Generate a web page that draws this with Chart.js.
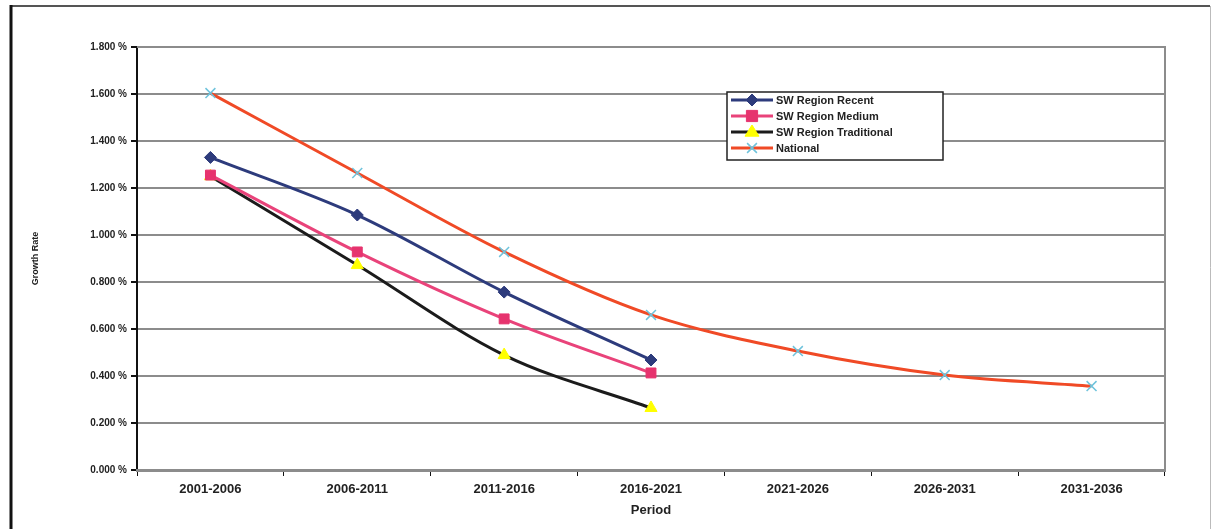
<!DOCTYPE html>
<html>
<head>
<meta charset="utf-8">
<script src="https://cdn.jsdelivr.net/npm/chart.js@4"></script>
<style>
  html, body { margin: 0; padding: 0; background: #fff; }
  #wrap { width: 1216px; height: 529px; }
</style>
</head>
<body>
<div id="wrap"><canvas id="growthChart" width="1216" height="529"></canvas></div>
<script>
// Growth rate by period
const periods = ['2001-2006', '2006-2011', '2011-2016', '2016-2021', '2021-2026', '2026-2031', '2031-2036'];
const swRecent = [1.33, 1.085, 0.757, 0.468, null, null, null];
const swMedium = [1.255, 0.928, 0.643, 0.413, null, null, null];
const swTraditional = [1.25, 0.872, 0.489, 0.264, null, null, null];
const national = [1.604, 1.264, 0.928, 0.66, 0.506, 0.404, 0.357];
const yTicks = [0, 0.2, 0.4, 0.6, 0.8, 1.0, 1.2, 1.4, 1.6, 1.8];

const labelFont = '"Liberation Sans Narrow", "Liberation Sans", Arial, sans-serif';

// frame around the whole picture + plot area border
const framePlugin = {
    id: 'frame',
    beforeDatasetsDraw(chart) {
        const a = chart.chartArea;
        const c = chart.ctx;
        c.save();
        c.strokeStyle = '#8c8c8c';
        c.lineWidth = 2;
        c.beginPath();
        c.moveTo(a.left, a.top);
        c.lineTo(a.right, a.top);
        c.lineTo(a.right, a.bottom);
        c.stroke();
        c.restore();
    },
    afterDraw(chart) {
        const c = chart.ctx;
        c.save();
        c.strokeStyle = '#555';
        c.lineWidth = 2;
        c.beginPath();
        c.moveTo(11, 6);
        c.lineTo(1210, 6);
        c.stroke();
        c.strokeStyle = '#111';
        c.lineWidth = 3;
        c.beginPath();
        c.moveTo(11, 5);
        c.lineTo(11, 529);
        c.stroke();
        c.strokeStyle = '#bbb';
        c.lineWidth = 1;
        c.beginPath();
        c.moveTo(1210.5, 6);
        c.lineTo(1210.5, 529);
        c.stroke();
        c.restore();
    }
};

function drawMarker(c, style, cx, cy, r) {
    c.beginPath();
    if (style === 'rectRot') {
        c.moveTo(cx, cy - r); c.lineTo(cx + r, cy); c.lineTo(cx, cy + r); c.lineTo(cx - r, cy); c.closePath();
        c.fill(); c.stroke();
    } else if (style === 'rect') {
        c.rect(cx - r * 0.8, cy - r * 0.8, 1.6 * r, 1.6 * r); c.fill(); c.stroke();
    } else if (style === 'triangle') {
        c.moveTo(cx, cy - r); c.lineTo(cx + r, cy + r * 0.6); c.lineTo(cx - r, cy + r * 0.6); c.closePath();
        c.fill(); c.stroke();
    } else if (style === 'crossRot') {
        const d = r * 0.7;
        c.moveTo(cx - d, cy - d); c.lineTo(cx + d, cy + d);
        c.moveTo(cx + d, cy - d); c.lineTo(cx - d, cy + d);
        c.stroke();
    }
}

// legend box drawn inside the plot, like the original
const boxLegend = {
    id: 'boxLegend',
    afterDatasetsDraw(chart) {
        const c = chart.ctx;
        const x = 727, y = 92, w = 216, h = 68;
        c.save();
        c.fillStyle = '#fff';
        c.fillRect(x, y, w, h);
        c.strokeStyle = '#222';
        c.lineWidth = 1.5;
        c.strokeRect(x, y, w, h);
        chart.data.datasets.forEach((ds, i) => {
            const ly = y + 8 + i * 16;
            c.strokeStyle = ds.borderColor;
            c.lineWidth = 3;
            c.beginPath();
            c.moveTo(x + 4, ly);
            c.lineTo(x + 46, ly);
            c.stroke();
            c.fillStyle = ds.pointBackgroundColor;
            c.strokeStyle = ds.pointBorderColor;
            c.lineWidth = ds.pointBorderWidth || 1;
            drawMarker(c, ds.pointStyle, x + 25, ly, ds.pointRadius);
            c.fillStyle = '#222';
            c.font = 'bold 11px "Liberation Sans", Arial, sans-serif';
            c.textBaseline = 'middle';
            c.fillText(ds.label, x + 49, ly + 1);
        });
        c.restore();
    }
};

const ctx = document.getElementById('growthChart').getContext('2d');
new Chart(ctx, {
    type: 'line',
    data: {
        labels: periods,
        datasets: [{
            label: 'SW Region Recent',
            data: swRecent,
            borderColor: '#2d3b7c',
            pointStyle: 'rectRot',
            pointRadius: 6,
            pointBackgroundColor: '#2d3b7c',
            pointBorderColor: '#2d3b7c'
        }, {
            label: 'SW Region Medium',
            data: swMedium,
            borderColor: '#e9437a',
            pointStyle: 'rect',
            pointRadius: 7,
            pointBackgroundColor: '#e6336e',
            pointBorderColor: '#e6336e'
        }, {
            label: 'SW Region Traditional',
            data: swTraditional,
            borderColor: '#1b1b1b',
            pointStyle: 'triangle',
            pointRadius: 7,
            pointBackgroundColor: '#ffff00',
            pointBorderColor: '#ffff00'
        }, {
            label: 'National',
            data: national,
            borderColor: '#f04a26',
            pointStyle: 'crossRot',
            pointRadius: 7,
            pointBorderWidth: 1.5,
            pointBackgroundColor: '#6ec3dc',
            pointBorderColor: '#6ec3dc'
        }]
    },
    options: {
        responsive: false,
        animation: false,
        layout: {
            padding: { left: 12, right: 51, top: 47, bottom: 7 }
        },
        elements: {
            line: { borderWidth: 3, cubicInterpolationMode: 'monotone', fill: false },
            point: { borderWidth: 1 }
        },
        scales: {
            y: {
                min: 0,
                max: 1.8,
                afterBuildTicks: function (scale) {
                    scale.ticks = yTicks.map(v => ({ value: v }));
                },
                afterFit: function (scale) { scale.width = 125; },
                border: { color: '#111', width: 2 },
                grid: { color: '#8c8c8c', lineWidth: 2, tickLength: 6, tickColor: '#111' },
                ticks: {
                    color: '#222',
                    padding: 4,
                    font: { family: '"Liberation Sans", Arial, sans-serif', size: 10, weight: 'bold' },
                    callback: function (v) { return v.toFixed(3) + ' %'; }
                },
                title: {
                    display: true,
                    text: 'Growth Rate',
                    color: '#222',
                    padding: { top: 18, bottom: 0 },
                    font: { family: '"Liberation Sans", Arial, sans-serif', size: 9, weight: 'bold' }
                }
            },
            x: {
                offset: true,
                afterFit: function (scale) { scale.height = 52; },
                border: { color: '#8c8c8c', width: 3 },
                grid: { offset: true, drawOnChartArea: false, tickLength: 6, tickColor: '#111' },
                ticks: {
                    color: '#222',
                    padding: 6,
                    maxRotation: 0,
                    font: { family: labelFont, size: 13, weight: 'bold' }
                },
                title: {
                    display: true,
                    text: 'Period',
                    color: '#222',
                    padding: { top: 0 },
                    font: { family: labelFont, size: 13, weight: 'bold' }
                }
            }
        },
        plugins: {
            legend: { display: false },
            tooltip: { enabled: false }
        }
    },
    plugins: [framePlugin, boxLegend]
});
</script>
</body>
</html>
